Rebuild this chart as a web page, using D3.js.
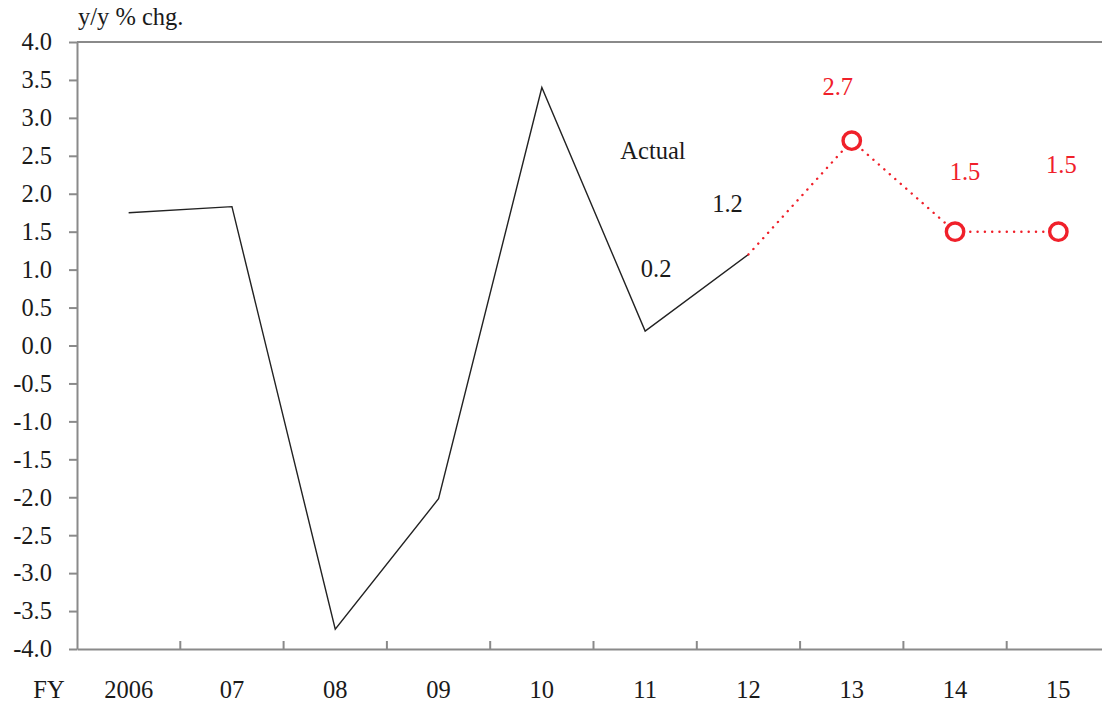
<!DOCTYPE html>
<html>
<head>
<meta charset="utf-8">
<script src="https://cdn.jsdelivr.net/npm/d3@7"></script>
<style>
  html, body { margin: 0; padding: 0; background: #fff; }
  svg { display: block; }
  text { font-family: "Liberation Serif", "Times New Roman", serif; }
</style>
</head>
<body>
<svg id="chart" width="1102" height="705"></svg>
<script>
// Fiscal years and y/y % change
const years = ["2006", "07", "08", "09", "10", "11", "12", "13", "14", "15"];
const actualYears = ["2006", "07", "08", "09", "10", "11", "12"];
const actualValues = [1.75, 1.83, -3.74, -2.02, 3.4, 0.19, 1.2];
const forecastYears = ["12", "13", "14", "15"];
const forecastValues = [1.2, 2.7, 1.5, 1.5];
const yTicks = [-4, -3.5, -3, -2.5, -2, -1.5, -1, -0.5, 0, 0.5, 1, 1.5, 2, 2.5, 3, 3.5, 4];

// Value annotations: which year, the value shown, and whether it is forecast
const labelYears = ["11", "12", "13", "14", "15"];
const labelValues = [0.2, 1.2, 2.7, 1.5, 1.5];
const labelForecast = [false, false, true, true, true];

const svg = d3.select("#chart");
const margin = { left: 77, top: 42, right: 1110, bottom: 649 };
const fontSize = 24.5;

const x = d3.scaleBand().domain(years).range([margin.left, margin.right]);
const y = d3.scaleLinear().domain([-4, 4]).range([margin.bottom, margin.top]);
const cx = d => x(d) + x.bandwidth() / 2;

const axisColor = "#8a8a8a";
const textColor = "#1a1a1a";
const red = "#f0202a";

const fmt = d3.formatLocale({ decimal: ".", thousands: ",", grouping: [3], currency: ["", ""], minus: "-" }).format(".1f");

// Y axis
const yAxis = svg.append("g")
  .attr("transform", `translate(${margin.left},0)`)
  .call(d3.axisLeft(y).tickValues(yTicks).tickFormat(fmt).tickSize(8).tickPadding(17).tickSizeOuter(0));
yAxis.select(".domain").attr("stroke", axisColor).attr("stroke-width", 2);
yAxis.selectAll(".tick line").attr("stroke", axisColor).attr("stroke-width", 2);
yAxis.selectAll(".tick text")
  .attr("fill", textColor).attr("font-size", fontSize)
  .style("font-family", '"Liberation Serif", serif');

// Top border
svg.append("line")
  .attr("x1", margin.left).attr("x2", margin.right)
  .attr("y1", y(4)).attr("y2", y(4))
  .attr("stroke", axisColor).attr("stroke-width", 2);

// X axis (category labels centred, ticks between categories)
const xAxis = svg.append("g")
  .attr("transform", `translate(0,${margin.bottom})`)
  .call(d3.axisBottom(x).tickSize(0).tickPadding(32).tickSizeOuter(0));
xAxis.select(".domain").attr("stroke", axisColor).attr("stroke-width", 2);
xAxis.selectAll(".tick text")
  .attr("fill", textColor).attr("font-size", fontSize)
  .style("font-family", '"Liberation Serif", serif');

svg.append("g").selectAll("line")
  .data(years.slice(1))
  .join("line")
  .attr("x1", d => x(d)).attr("x2", d => x(d))
  .attr("y1", margin.bottom).attr("y2", margin.bottom - 8)
  .attr("stroke", axisColor).attr("stroke-width", 2);

svg.append("text")
  .attr("x", 49).attr("y", 698)
  .attr("text-anchor", "middle")
  .attr("font-size", fontSize).attr("fill", textColor)
  .text("FY");

// Unit label
svg.append("text")
  .attr("x", 78).attr("y", 25)
  .attr("font-size", fontSize).attr("fill", textColor)
  .text("y/y % chg.");

// Actual series
const line = d3.line().x(d => cx(d[0])).y(d => y(d[1]));
svg.append("path")
  .datum(d3.zip(actualYears, actualValues))
  .attr("d", line)
  .attr("fill", "none")
  .attr("stroke", "#222")
  .attr("stroke-width", 1.4);

// Forecast series
svg.append("path")
  .datum(d3.zip(forecastYears, forecastValues))
  .attr("d", line)
  .attr("fill", "none")
  .attr("stroke", red)
  .attr("stroke-width", 2.4)
  .attr("stroke-linecap", "round")
  .attr("stroke-dasharray", "0.1 7.2");

svg.append("g").selectAll("circle")
  .data(d3.zip(forecastYears, forecastValues).slice(1))
  .join("circle")
  .attr("cx", d => cx(d[0]))
  .attr("cy", d => y(d[1]))
  .attr("r", 8.7)
  .attr("fill", "#fff")
  .attr("stroke", red)
  .attr("stroke-width", 3.4);

// Value annotations, offset from their points
const labelDx = [11, -21, -14, 10, 3];
const labelDy = [-53, -42, -46, -52, -59];
svg.append("g").selectAll("text")
  .data(d3.range(labelYears.length))
  .join("text")
  .attr("x", i => cx(labelYears[i]) + labelDx[i])
  .attr("y", i => y(labelValues[i]) + labelDy[i])
  .attr("text-anchor", "middle")
  .attr("font-size", fontSize)
  .attr("fill", i => labelForecast[i] ? red : textColor)
  .text(i => fmt(labelValues[i]));

svg.append("text")
  .attr("x", 653).attr("y", 159)
  .attr("text-anchor", "middle")
  .attr("font-size", fontSize).attr("fill", textColor)
  .text("Actual");
</script>
</body>
</html>
